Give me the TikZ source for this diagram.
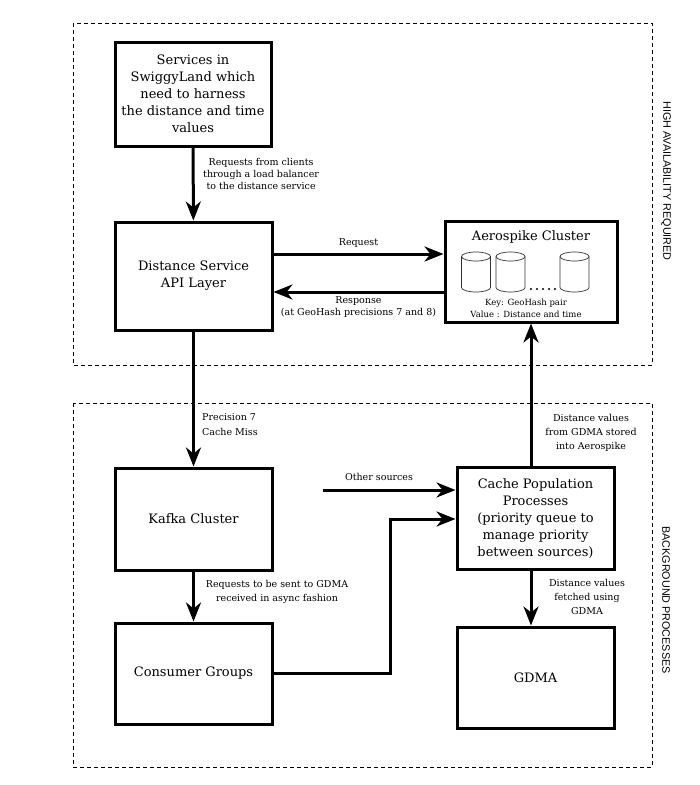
\documentclass[tikz,border=0pt]{standalone}
\usepackage{fontspec}
\setmainfont{DejaVu Serif}
\newfontfamily\sidefont{Liberation Sans}
\usetikzlibrary{arrows.meta}
\tikzset{
  box/.style={draw, line width=3pt, align=center, inner sep=2pt, font=\fontsize{13}{17}\selectfont},
  arr/.style={line width=3pt, -{Stealth[length=19pt,width=15pt,inset=6pt]}},
  lbl/.style={align=center, font=\fontsize{9.5}{13}\selectfont, inner sep=0pt},
  zone/.style={draw, line width=0.9pt, dash pattern=on 4pt off 3pt},
  side/.style={rotate=-90, font=\sidefont\fontsize{10.8}{12}\selectfont, inner sep=0pt},
  drum/.style={line width=0.7pt, draw=black!80},
}
\begin{document}
\begin{tikzpicture}[x=1pt,y=-1pt]
\useasboundingbox (0,0) rectangle (700,785);
% dashed zones
\draw[zone] (73,23) rectangle (652,365);
\draw[zone] (73,403) rectangle (652,767);
\node[side] (hatext) at (666,181) {HIGH AVAILABILITY REQUIRED};
\node[side] (bgtext) at (666,600) {BACKGROUND PROCESSES};
% boxes
\node[box, minimum width=156pt, minimum height=104pt] (services) at (193,94) {Services in\\SwiggyLand which\\need to harness\\the distance and time\\values};
\node[box, minimum width=157pt, minimum height=108pt] (distance) at (193.5,276) {Distance Service\\API Layer};
\node[box, minimum width=172pt, minimum height=101pt] (aero) at (531,271.5) {};
\node[box, minimum width=157pt, minimum height=102pt] (kafka) at (193.5,519) {Kafka Cluster};
\node[box, minimum width=157pt, minimum height=101pt] (consumer) at (193.5,673.5) {Consumer Groups};
\node[box, minimum width=157pt, minimum height=102pt] (cache) at (535.5,518.5) {Cache Population\\Processes\\(priority queue to\\manage priority\\between sources)};
\node[box, minimum width=157pt, minimum height=101pt] (gdma) at (535.5,677.5) {GDMA};
% inside the aerospike box
\node[font=\fontsize{13}{15}\selectfont] (aerotitle) at (531,237) {Aerospike Cluster};
\foreach \cx in {476,510.5,574.5}{
  \draw[drum] (\cx,256.5) ellipse [x radius=14.5, y radius=4.5];
  \draw[drum] ({\cx-14.5},256.5) -- ({\cx-14.5},287.5) arc[start angle=180, end angle=0, x radius=14.5, y radius=4.5] -- ({\cx+14.5},256.5);
}
\foreach \dx in {531,537,543,549,555}
  \fill (\dx,289) circle (1.2);
\node[lbl, font=\fontsize{8.5}{12}\selectfont] (aerokey) at (526,308) {Key: GeoHash pair\\Value : Distance and time};
% connectors
\draw[arr] (services) -- (distance);
\node[lbl, anchor=west, font=\fontsize{9.5}{12}\selectfont] (reqlbl) at (203,174) {Requests from clients\\through a load balancer\\to the distance service};
\draw[arr] ([yshift=22pt]distance.east) -- ([yshift=22pt]distance.east -| aero.west) node[lbl, midway, above=5pt] {Request};
\draw[arr] ([yshift=-16pt]distance.east -| aero.west) -- ([yshift=-16pt]distance.east) node[lbl, midway, below=3pt, font=\fontsize{9.5}{12}\selectfont] {Response\\(at GeoHash precisions 7 and 8)};
\draw[arr] (distance) -- (kafka);
\node[lbl, anchor=west, align=left, font=\fontsize{9.5}{15}\selectfont] (misslbl) at (202,425) {Precision 7\\Cache Miss};
\draw[arr] (cache.north -| aero.south) -- (aero.south);
\node[lbl, font=\fontsize{9.5}{14}\selectfont] (storelbl) at (591,433) {Distance values\\from GDMA stored\\into Aerospike};
\coordinate (othersrc) at (323,490);
\draw[arr] (othersrc) -- (othersrc -| cache.west);
\node[lbl] (otherlbl) at (379,477) {Other sources};
\coordinate (bend) at (390,519);
\draw[arr] (consumer.east) -| (bend) -- (bend -| cache.west);
\draw[arr] (kafka) -- (consumer);
\node[lbl, font=\fontsize{9.5}{14}\selectfont] (asynclbl) at (277,592) {Requests to be sent to GDMA\\received in async fashion};
\draw[arr] (cache.south -| aero.south) -- (gdma.north -| aero.south);
\node[lbl, font=\fontsize{9.5}{14}\selectfont] (fetchlbl) at (587,597) {Distance values\\fetched using\\GDMA};
\end{tikzpicture}
\end{document}
